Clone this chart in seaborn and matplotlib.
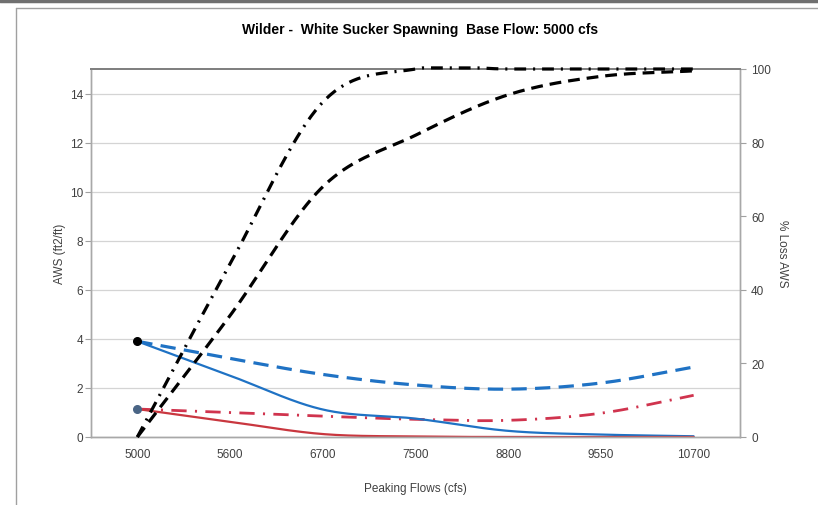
import numpy as np
import pandas as pd
import matplotlib
matplotlib.use("Agg")
import matplotlib.pyplot as plt
from matplotlib.lines import Line2D
import seaborn as sns

# values
flows = ['5000', '5600', '6700', '7500', '8800', '9550', '10700']
aws_blue = [3.9, 2.5, 1.12, 0.75, 0.25, 0.1, 0.03]
aws_red = [1.14, 0.62, 0.12, 0.02, 0.0, 0.0, 0.0]
aws_blue_base = [3.9, 3.2, 2.55, 2.12, 1.95, 2.2, 2.85]
aws_red_base = [1.14, 1.0, 0.85, 0.72, 0.68, 0.97, 1.7]
loss_dashdot = [0, 47, 91, 100, 100, 100, 100]
loss_dashed = [0, 33, 68, 82, 93, 98, 99.5]

sns.set_theme(style="white")
plt.rcParams['font.family'] = ['Liberation Sans', 'DejaVu Sans']
plt.rcParams['lines.scale_dashes'] = False


def smooth(vals, n=40):
    # excel-style smoothed line (catmull-rom through the points)
    p = np.asarray(vals, dtype=float)
    ext = np.concatenate([[2 * p[0] - p[1]], p, [2 * p[-1] - p[-2]]])
    xs, ys = [], []
    for i in range(len(p) - 1):
        p0, p1, p2, p3 = ext[i], ext[i + 1], ext[i + 2], ext[i + 3]
        t = np.linspace(0, 1, n, endpoint=False)
        y = 0.5 * ((2 * p1) + (-p0 + p2) * t + (2 * p0 - 5 * p1 + 4 * p2 - p3) * t ** 2
                   + (-p0 + 3 * p1 - 3 * p2 + p3) * t ** 3)
        xs.extend(i + t)
        ys.extend(y)
    xs.append(len(p) - 1)
    ys.append(p[-1])
    return np.array(xs), np.array(ys)


fig = plt.figure(figsize=(8.18, 5.06), dpi=100)
ax = fig.add_axes([91 / 818, 68 / 506, 649 / 818, 368 / 506])
ax2 = ax.twinx()

grey = '#404040'
blue = '#1f72c4'
red = '#c9373f'

for vals, col, ls, lw in [
    (aws_blue_base, blue, (0, (11, 6)), 2.3),
    (aws_red_base, '#d0344e', (0, (11, 6, 1.5, 6)), 2.0),
    (aws_blue, blue, '-', 1.6),
    (aws_red, red, '-', 1.6),
]:
    x, y = smooth(vals)
    sns.lineplot(x=x, y=y, ax=ax, color=col, linestyle=ls, linewidth=lw, sort=False)

ax.scatter([0], [aws_blue[0]], s=30, color='black', zorder=5)
ax.scatter([0], [aws_red[0]], s=30, color='#4a6585', zorder=5)

for vals, ls in [
    (loss_dashdot, (0, (8.5, 5, 1.5, 5))),
    (loss_dashed, (0, (8.5, 5))),
]:
    x, y = smooth(vals)
    sns.lineplot(x=x, y=np.clip(y, 0, 100.3), ax=ax2, color='black', linestyle=ls,
                 linewidth=2.3, sort=False, clip_on=False, zorder=4)

ax.set_xlim(-0.5, 6.5)
ax.set_ylim(0, 15)
ax2.set_ylim(0, 100)

ax.set_xticks(range(len(flows)))
ax.set_xticklabels(flows)
ax.set_xticks(np.arange(-0.5, 7, 1), minor=True)
ax.tick_params(axis='x', which='major', length=0, pad=8, labelsize=8.5, colors=grey)
ax.tick_params(axis='x', which='minor', length=4, width=0.8, color='#a0a0a0', direction='out')
ax.set_yticks(range(0, 15, 2))
ax.tick_params(axis='y', length=4, width=0.8, color='#a0a0a0', direction='out', labelsize=8.5,
               labelcolor=grey, pad=1.5, left=True)
ax2.set_yticks(range(0, 101, 20))
ax2.tick_params(axis='y', length=4, width=0.8, color='#a0a0a0', direction='out', labelsize=8.5,
                labelcolor=grey, pad=4, right=True)

ax.grid(axis='y', color='#d4d4d4', linewidth=0.9)
ax.grid(axis='x', visible=False)
ax2.grid(False)
ax.set_axisbelow(True)

for a in (ax, ax2):
    for s in ['left', 'right', 'bottom']:
        a.spines[s].set_color('#a8a8a8')
        a.spines[s].set_linewidth(1.0)
    a.spines['top'].set_color('#808080')
    a.spines['top'].set_linewidth(1.4)

ax.set_xlabel('Peaking Flows (cfs)', fontsize=8.5, color=grey, labelpad=16)
ax.set_ylabel('AWS (ft2/ft)', fontsize=8.5, color=grey, labelpad=3)
ax2.set_ylabel('% Loss AWS', fontsize=8.5, color=grey, rotation=270, labelpad=12)

fig.text(420 / 818, 1 - 30 / 506, 'Wilder -  White Sucker Spawning  Base Flow: 5000 cfs',
         ha='center', va='center', fontsize=10, fontweight='bold', color='black')

# outer frame of the screenshot
fig.add_artist(Line2D([0, 1], [1 - 1.5 / 506, 1 - 1.5 / 506], color='#707070', linewidth=2.5,
                      transform=fig.transFigure))
fig.add_artist(Line2D([16 / 818, 1], [1 - 9 / 506, 1 - 9 / 506], color='#a0a0a0', linewidth=1.0,
                      transform=fig.transFigure))
fig.add_artist(Line2D([16 / 818, 16 / 818], [0, 1 - 9 / 506], color='#a0a0a0', linewidth=1.0,
                      transform=fig.transFigure))

fig.savefig('out.png', dpi=100)
